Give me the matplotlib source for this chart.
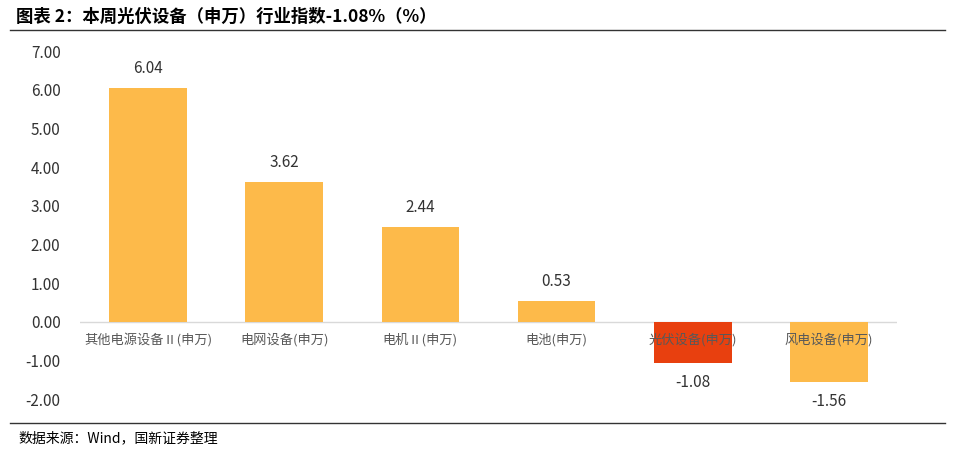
import matplotlib
matplotlib.use("Agg")
import matplotlib.pyplot as plt

plt.rcParams['font.family'] = ['Noto Sans CJK SC', 'DejaVu Sans']

categories = ["其他电源设备Ⅱ(申万)", "电网设备(申万)", "电机Ⅱ(申万)", "电池(申万)", "光伏设备(申万)", "风电设备(申万)"]
values = [6.04, 3.62, 2.44, 0.53, -1.08, -1.56]
colors = ["#FDBA4A", "#FDBA4A", "#FDBA4A", "#FDBA4A", "#E8400F", "#FDBA4A"]
yticks = [-2, -1, 0, 1, 2, 3, 4, 5, 6, 7]

W, H = 954, 451
fig = plt.figure(figsize=(W/100, H/100), dpi=100)
ax = fig.add_axes([80/W, (H-399)/H, (897-80)/W, 348/H])
x = list(range(len(values)))
ax.bar(x, values, width=0.57, color=colors, zorder=2)
ax.set_xlim(-0.5, 5.5)
ax.set_ylim(-2, 7)
ax.set_yticks(yticks)
ax.set_yticklabels([f"{t:.2f}" for t in yticks], fontsize=11, color="#333333")
ax.tick_params(axis='y', length=0, pad=14)
ax.set_xticks([])
for s in ax.spines.values():
    s.set_visible(False)
ax.axhline(0, color="#D9D9D9", lw=1, zorder=1)
for i, (c, v) in enumerate(zip(categories, values)):
    off = 0.28 if v >= 0 else -0.28
    ax.text(i, v + off, f"{v:.2f}", ha='center', va='bottom' if v >= 0 else 'top', fontsize=11, color="#333333")
    ax.text(i, -0.47, c, ha='center', va='center', fontsize=9.5, color="#595959", zorder=3)

fig.text(16/W, 1-17/H, "图表 2：本周光伏设备（申万）行业指数-1.08%（%）", fontsize=12.5, fontweight='bold', style='italic', va='center')
fig.add_artist(plt.Line2D([10/W, 945/W], [1-30/H, 1-30/H], color="#333333", lw=1))
fig.add_artist(plt.Line2D([10/W, 945/W], [1-423/H, 1-423/H], color="#333333", lw=1))
fig.text(18/W, 1-438/H, "数据来源：Wind，国新证券整理", fontsize=10, va='center')
fig.savefig("out.png", dpi=100)
